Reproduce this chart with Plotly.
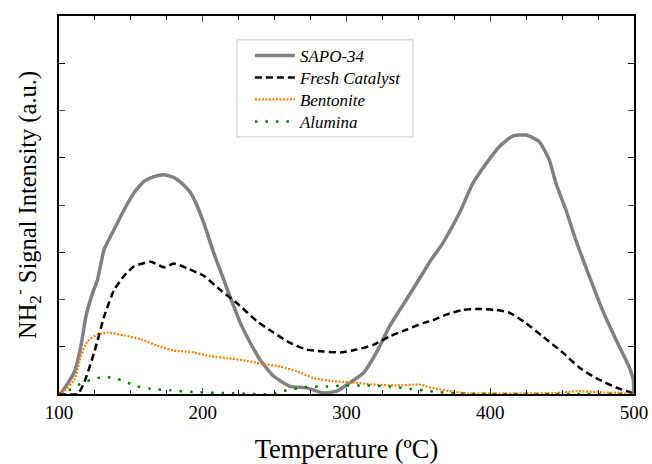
import plotly.graph_objects as go

# SAPO-34
sapo_x = [100, 101.4, 110.6, 115.2, 118.7, 123.4, 126.8, 131.4, 138.3, 145.3, 152.2, 159.1, 166.1, 173, 180,
          186.9, 191.5, 196.1, 200.7, 207.7, 214.6, 221.5, 226.2, 233.1, 240, 249.2, 260.8, 272.4, 283.9, 293.2,
          302.4, 311.6, 320.9, 330.1, 341.7, 353.2, 357.9, 367.1, 378.7, 387.9, 397.2, 406.4, 415.6, 424.9,
          434.1, 441.0, 445.7, 452.6, 459.5, 468.8, 478, 487.3, 496.5, 499.5, 500]
sapo_y = [0, 0.01, 0.23, 0.5, 0.82, 1.07, 1.21, 1.53, 1.74, 1.95, 2.13, 2.25, 2.30, 2.32, 2.29,
          2.21, 2.13, 1.99, 1.81, 1.49, 1.21, 0.93, 0.75, 0.54, 0.36, 0.19, 0.08, 0.065, 0.01, 0.03,
          0.12, 0.22, 0.44, 0.72, 1.0, 1.28, 1.40, 1.60, 1.92, 2.23, 2.44, 2.62, 2.73, 2.74,
          2.67, 2.48, 2.23, 1.95, 1.63, 1.25, 0.89, 0.58, 0.29, 0.15, 0.0]

# Fresh Catalyst
fresh_x = [100, 113, 117.5, 124.5, 131.4, 138.3, 145.3, 152.2, 163.8, 173, 180, 189.2, 200.7, 212.3, 223.9,
           237.7, 249.2, 260.8, 272.4, 283.9, 295.5, 307.1, 318.6, 330.1, 341.7, 353.2, 360, 369.4, 380.9,
           392.5, 404.1, 413.3, 424.9, 436.4, 450.3, 461.9, 473.4, 487.3, 498.8, 500]
fresh_y = [0, 0, 0.12, 0.44, 0.82, 1.10, 1.25, 1.35, 1.40, 1.34, 1.38, 1.33, 1.25, 1.10, 0.96,
           0.77, 0.65, 0.54, 0.47, 0.45, 0.44, 0.47, 0.52, 0.61, 0.68, 0.75, 0.78, 0.84, 0.89,
           0.90, 0.89, 0.86, 0.75, 0.61, 0.44, 0.28, 0.17, 0.07, 0.01, 0]

# Bentonite
bent_x = [100, 101.4, 110.6, 115.2, 119.9, 126.8, 133.8, 145.3, 156.8, 168.4, 180, 193.8, 205.4, 217, 230.8,
          237.7, 253.9, 265.5, 277, 290.9, 302.4, 318.6, 334.8, 350.9, 357.9, 364.8, 371.7, 385.6, 420,
          445, 459.5, 475, 490, 500]
bent_y = [0, 0, 0.15, 0.40, 0.56, 0.63, 0.65, 0.62, 0.58, 0.51, 0.46, 0.44, 0.40, 0.38, 0.35,
          0.33, 0.29, 0.24, 0.17, 0.135, 0.125, 0.10, 0.09, 0.10, 0.07, 0.05, 0.03, 0.005, 0.005,
          0.01, 0.03, 0.02, 0.01, 0]

# Alumina
alum_x = [100, 101.4, 108.3, 115.2, 124.5, 131.4, 138.3, 145.3, 154.6, 166.1, 177.6, 193.8, 217, 249,
          258.5, 272.4, 286.2, 300, 314, 330, 344, 358, 364.8, 380, 420, 460, 500]
alum_y = [0, 0, 0.05, 0.11, 0.16, 0.18, 0.17, 0.135, 0.08, 0.05, 0.04, 0.02, 0.01, 0,
          0.04, 0.075, 0.08, 0.09, 0.09, 0.08, 0.055, 0.03, 0.02, 0.005, 0, 0, 0]

series_names = ["SAPO-34", "Fresh Catalyst", "Bentonite", "Alumina"]

font_family = "Liberation Serif, Times New Roman, serif"

fig = go.Figure()
fig.add_trace(go.Scatter(x=sapo_x, y=sapo_y, mode="lines", name="<i>%s</i>" % series_names[0], legend="legend",
                         line=dict(color="#808080", width=3.5, shape="spline", smoothing=0.5)))
fig.add_trace(go.Scatter(x=fresh_x, y=fresh_y, mode="lines", name="<i>%s</i>" % series_names[1], legend="legend2",
                         line=dict(color="black", width=2.5, dash="7px,4px", shape="spline", smoothing=0.5)))
fig.add_trace(go.Scatter(x=bent_x, y=bent_y, mode="lines", name="<i>%s</i>" % series_names[2], legend="legend3",
                         line=dict(color="#FF7F00", width=2.2, dash="2px,1.5px", shape="spline", smoothing=0.5)))
fig.add_trace(go.Scatter(x=alum_x, y=alum_y, mode="lines", name="<i>%s</i>" % series_names[3], legend="legend4",
                         line=dict(color="#008000", width=2.5, dash="2.5px,8px", shape="spline", smoothing=0.5)))

def leg(yc):
    return dict(x=0.332, y=yc, xanchor="left", yanchor="middle", borderwidth=0, itemwidth=40,
                bgcolor="rgba(0,0,0,0)", font=dict(family=font_family, size=17))

fig.update_layout(
    width=652, height=464,
    margin=dict(l=59, r=18, t=16, b=70, autoexpand=False),
    paper_bgcolor="white", plot_bgcolor="white",
    font=dict(family=font_family, color="black"),
    showlegend=True,
    legend=leg(0.894), legend2=leg(0.836), legend3=leg(0.778), legend4=leg(0.720),
    shapes=[dict(type="rect", xref="paper", yref="paper", x0=0.3096, x1=0.6157, y0=0.680, y1=0.937,
                 line=dict(color="#c8c8c8", width=1), fillcolor="white", layer="below")],
    xaxis=dict(range=[100, 500], dtick=100, tick0=100, ticks="inside", ticklen=6, tickwidth=1,
               showline=True, linecolor="black", linewidth=1.5, mirror="allticks",
               showgrid=False, zeroline=False, automargin=False,
               minor=dict(dtick=25, ticks="inside", ticklen=4, tickcolor="black"),
               tickfont=dict(size=19, family=font_family),
               title=dict(text="Temperature (ºC)", font=dict(size=26.5, family=font_family), standoff=21)),
    yaxis=dict(range=[0, 4], dtick=1, ticks="inside", ticklen=6, tickwidth=1,
               showline=True, linecolor="black", linewidth=1.5, mirror="allticks",
               showgrid=False, zeroline=False, showticklabels=False, automargin=False,
               minor=dict(dtick=0.5, ticks="inside", ticklen=6, tickcolor="black"),
               title=dict(text="NH<sub>2</sub><sup>-</sup> Signal Intensity (a.u.)",
                          font=dict(size=24.5, family=font_family), standoff=14)),
)

fig.write_html("out.html")
